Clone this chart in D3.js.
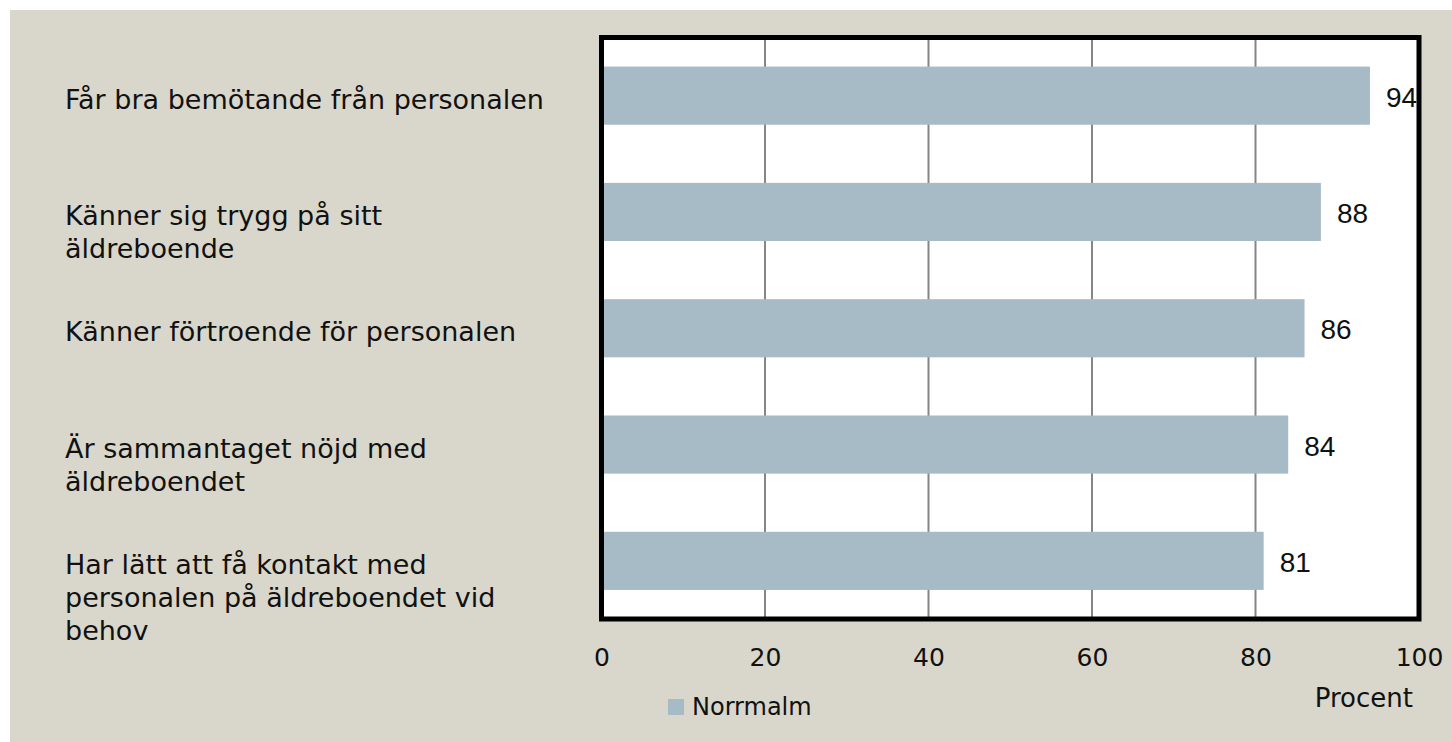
<!DOCTYPE html>
<html>
<head>
<meta charset="utf-8">
<script src="https://d3js.org/d3.v7.min.js"></script>
<style>
  body { margin: 0; background: #fff; }
  svg { display: block; }
</style>
</head>
<body>
<script>
// data
const categories = [
  ["Får bra bemötande från personalen"],
  ["Känner sig trygg på sitt", "äldreboende"],
  ["Känner förtroende för personalen"],
  ["Är sammantaget nöjd med", "äldreboendet"],
  ["Har lätt att få kontakt med", "personalen på äldreboendet vid", "behov"]
]
const values = [94, 88, 86, 84, 81]
const xTicks = [0, 20, 40, 60, 80, 100]
const seriesName = "Norrmalm"
const axisTitle = "Procent"

const width = 1452
const height = 742
const plotLeft = 601.5, plotRight = 1419, plotTop = 37.5, plotBottom = 619
const barColor = "#a7bbc7"
const bg = "#d9d7cb"
const labelFont = "'DejaVu Sans', sans-serif"

const svg = d3.select("body").append("svg")
  .attr("width", width)
  .attr("height", height)

// beige panel
svg.append("rect")
  .attr("x", 10).attr("y", 10)
  .attr("width", width - 10).attr("height", height - 10)
  .attr("fill", bg)

const x = d3.scaleLinear().domain([0, 100]).range([plotLeft, plotRight])
const y = d3.scaleBand().domain(d3.range(values.length)).range([plotTop, plotBottom])
  .paddingInner(0.5).paddingOuter(0.25)

// plot area
svg.append("rect")
  .attr("x", plotLeft).attr("y", plotTop)
  .attr("width", plotRight - plotLeft).attr("height", plotBottom - plotTop)
  .attr("fill", "#fff")

// gridlines
svg.append("g").selectAll("line")
  .data(xTicks.slice(1, -1))
  .enter().append("line")
  .attr("x1", d => x(d)).attr("x2", d => x(d))
  .attr("y1", plotTop).attr("y2", plotBottom)
  .attr("stroke", "#868686")
  .attr("stroke-width", 2)

// bars
svg.append("g").selectAll("rect")
  .data(values)
  .enter().append("rect")
  .attr("x", x(0))
  .attr("y", (d, i) => y(i))
  .attr("width", d => x(d) - x(0))
  .attr("height", y.bandwidth())
  .attr("fill", barColor)

// value labels
svg.append("g").selectAll("text")
  .data(values)
  .enter().append("text")
  .attr("x", d => x(d) + 16)
  .attr("y", (d, i) => y(i) + y.bandwidth() / 2 + 11)
  .attr("font-family", "'Liberation Sans', Arial, sans-serif")
  .attr("font-size", 28)
  .attr("fill", "#111")
  .text(d => d)

// frame
svg.append("rect")
  .attr("x", plotLeft).attr("y", plotTop)
  .attr("width", plotRight - plotLeft).attr("height", plotBottom - plotTop)
  .attr("fill", "none")
  .attr("stroke", "#000")
  .attr("stroke-width", 5)

// x axis
const xAxis = d3.axisBottom(x).tickValues(xTicks).tickSize(0).tickPadding(0)
const xAxisGroup = svg.append("g")
  .attr("id", "x-axis")
  .attr("transform", "translate(0," + plotBottom + ")")
  .call(xAxis)
xAxisGroup.select(".domain").remove()
xAxisGroup.selectAll("text")
  .attr("dy", null)
  .attr("y", 47)
  .attr("font-family", labelFont)
  .attr("font-size", 25)
  .attr("fill", "#111")

// category labels
const cat = svg.append("g").selectAll("text")
  .data(categories)
  .enter().append("text")
  .attr("x", 65)
  .attr("y", (d, i) => y(i) + y.bandwidth() / 2 + 13)
  .attr("font-family", labelFont)
  .attr("font-size", 27)
  .attr("fill", "#111")
cat.selectAll("tspan")
  .data(d => d)
  .enter().append("tspan")
  .attr("x", 65)
  .attr("dy", (d, i) => i === 0 ? 0 : 33)
  .text(d => d)

// axis title
svg.append("text")
  .attr("x", 1413).attr("y", 707)
  .attr("text-anchor", "end")
  .attr("font-family", labelFont)
  .attr("font-size", 26)
  .attr("fill", "#111")
  .text(axisTitle)

// legend
const legend = svg.append("g").attr("transform", "translate(668,699)")
legend.append("rect")
  .attr("width", 16).attr("height", 16)
  .attr("fill", barColor)
legend.append("text")
  .attr("x", 24).attr("y", 16)
  .attr("font-family", labelFont)
  .attr("font-size", 24)
  .attr("fill", "#111")
  .text(seriesName)
</script>
</body>
</html>
